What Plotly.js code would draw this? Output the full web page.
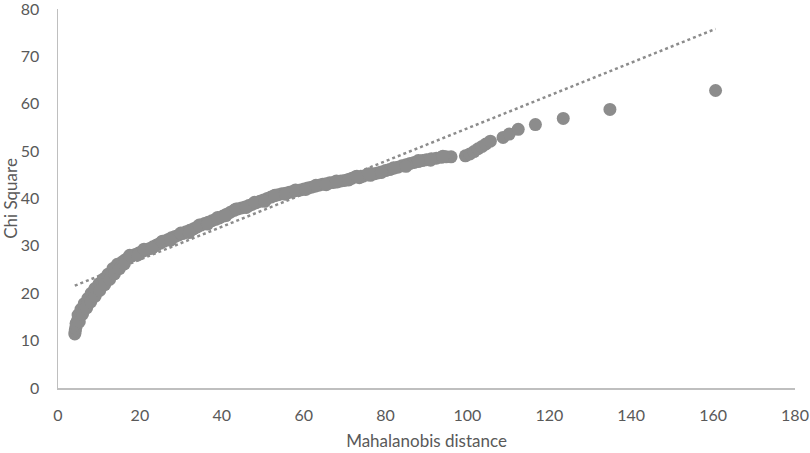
<!DOCTYPE html>
<html>
<head>
<meta charset="utf-8">
<script src="https://cdn.plot.ly/plotly-3.0.1.min.js"></script>
<style>
html,body{margin:0;padding:0;background:#fff;}
#chart{width:810px;height:453px;}
</style>
</head>
<body>
<div id="chart"></div>
<script>
// Mahalanobis distance (x) vs Chi Square quantile (y)
const mahalanobis = [
4.1,4.2,4.3,4.5,4.6,4.8,5.0,5.3,5.5,5.9,6.2,6.6,7.0,7.4,7.9,8.3,8.8,9.3,9.8,10.3,
10.9,11.4,12.0,12.5,13.1,13.7,14.2,14.8,15.4,16.0,16.7,17.4,18.1,18.9,19.7,20.5,21.4,22.3,23.2,24.1,
25.0,25.9,26.8,27.7,28.6,29.5,30.4,31.3,32.2,33.1,34.0,34.9,35.8,36.7,37.6,38.5,39.4,40.3,41.2,42.1,
43.0,43.9,44.8,45.7,46.6,47.5,48.4,49.3,50.2,51.1,52.0,52.9,53.8,54.7,55.6,56.5,57.4,58.3,59.2,60.1,
61.0,61.9,62.8,63.7,64.6,65.5,66.4,67.3,68.2,69.1,70.0,70.9,71.8,72.7,73.6,74.5,75.4,76.3,77.2,78.1,
79.0,80.0,81.0,82.0,83.0,84.0,85.0,86.0,87.0,88.0,89.0,90.0,91.2,92.4,93.6,94.8,96.0,
99.5,100.6,101.6,102.6,103.6,104.5,105.6,108.7,110.2,112.4,116.6,123.4,134.8,160.6,
4.4,4.9,5.6,6.4,7.3,8.1,9.0,10.0,11.1,12.2,13.4,14.5,
5.2,6.0,7.0,8.0,9.1,10.2,11.4,12.6,13.8,15.0,16.2,
17.5,19.5,21.0,23.0,25.5,27.5,30.0,32.0,34.5,36.5,39.0,41.0,43.5,46.0,48.0,50.5,53.0,55.5,58.0,60.5,
63.0,65.5,68.0,71.0,73.0,76.0,79.0,82.0,85.0,88.0,91.0,94.0
];
const chiSquare = [
11.4,12.0,12.6,13.2,13.8,14.3,14.8,15.3,15.8,16.3,16.8,17.3,17.8,18.3,18.8,19.3,19.9,20.4,20.9,21.4,
22.0,22.5,23.1,23.6,24.2,24.8,25.3,25.9,26.4,26.8,27.2,27.6,27.9,28.2,28.5,28.8,29.1,29.4,29.8,30.2,
30.6,31.0,31.3,31.7,32.0,32.3,32.6,33.0,33.3,33.6,34.0,34.4,34.7,35.0,35.3,35.6,35.9,36.3,36.7,37.1,
37.5,37.8,38.0,38.2,38.5,38.8,39.1,39.4,39.7,40.0,40.3,40.6,40.8,41.0,41.1,41.3,41.5,41.7,41.8,42.0,
42.2,42.4,42.6,42.8,43.0,43.1,43.3,43.4,43.5,43.7,43.8,44.0,44.3,44.6,44.4,44.7,45.0,44.9,45.2,45.4,
45.6,45.9,46.1,46.4,46.6,46.9,47.1,47.4,47.6,47.8,48.0,48.2,48.4,48.5,48.7,48.8,48.8,
49.0,49.4,49.9,50.5,51.0,51.5,52.1,52.9,53.6,54.6,55.6,56.9,58.8,62.8,
13.6,15.4,16.6,17.8,18.9,20.0,21.0,22.0,23.0,24.0,25.2,26.1,
14.0,15.6,16.9,18.2,19.4,20.6,21.8,22.9,24.1,25.2,26.2,
28.0,28.1,29.3,29.5,31.0,31.2,32.7,32.8,34.4,34.6,36.0,36.4,37.8,38.1,39.2,39.4,40.7,40.9,41.8,41.9,
42.8,42.9,43.7,43.9,44.7,45.2,45.5,46.5,46.8,48.0,48.1,48.9
];
// Linear trendline end points
const trendX = [4.1, 160.6];
const trendY = [21.6, 75.8];

const xTicks = [0,20,40,60,80,100,120,140,160,180];
const yTicks = [0,10,20,30,40,50,60,70,80];

const textColor = '#595959';
const markColor = '#8c8c8c';
const fontFam = 'Lato, "Open Sans", sans-serif';

const data = [
  {
    x: trendX, y: trendY, type: 'scatter', mode: 'lines',
    line: {color: '#8c8c8c', width: 2.5, dash: 'dot'},
    hoverinfo: 'skip', showlegend: false
  },
  {
    x: mahalanobis, y: chiSquare, type: 'scatter', mode: 'markers',
    marker: {color: markColor, size: 13, line: {width: 0}},
    showlegend: false
  }
];

const layout = {
  width: 810, height: 453,
  margin: {l: 58, r: 15, t: 9, b: 65},
  paper_bgcolor: '#ffffff', plot_bgcolor: '#ffffff',
  font: {family: fontFam, size: 16, color: textColor},
  showlegend: false,
  xaxis: {
    range: [0, 180], tickvals: xTicks, ticktext: xTicks.map(String),
    showgrid: false, zeroline: false,
    showline: true, linecolor: '#bfbfbf', linewidth: 1.5,
    ticks: '', ticklabelstandoff: 12, ticklabeloverflow: 'allow',
    tickfont: {family: fontFam, size: 16, color: textColor},
    title: {text: 'Mahalanobis distance', font: {family: fontFam, size: 17, color: textColor}, standoff: 12}
  },
  yaxis: {
    range: [0, 80], tickvals: yTicks, ticktext: yTicks.map(String),
    showgrid: false, zeroline: false,
    showline: true, linecolor: '#bfbfbf', linewidth: 1.5,
    ticks: '', ticklabelstandoff: 14, ticklabeloverflow: 'allow',
    tickfont: {family: fontFam, size: 16, color: textColor},
    title: {text: 'Chi Square', font: {family: fontFam, size: 17, color: textColor}, standoff: 4}
  }
};

Plotly.newPlot('chart', data, layout, {displayModeBar: false, staticPlot: true});
</script>
</body>
</html>
